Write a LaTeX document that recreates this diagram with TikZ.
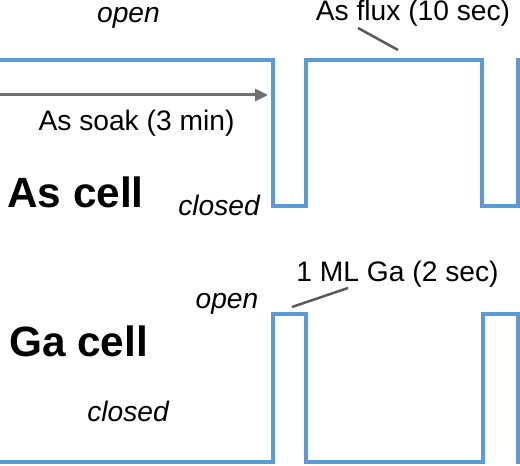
\documentclass[tikz,border=0pt]{standalone}
\usepackage{fontspec}
\setmainfont{Liberation Sans}
\usetikzlibrary{arrows.meta}
\definecolor{wavecol}{RGB}{91,155,213}
\definecolor{arrowgray}{RGB}{112,112,112}
\definecolor{leadgray}{RGB}{89,89,89}
\begin{document}
\begin{tikzpicture}[x=1bp,y=-1bp,
  wave/.style={draw=wavecol,line width=4bp,line join=miter},
  lbl/.style={inner sep=0,anchor=base,font=\fontsize{28.3}{32}\selectfont},
  ital/.style={inner sep=0,anchor=base,font=\fontsize{28.3}{32}\selectfont\itshape},
  celltitle/.style={inner sep=0,anchor=base west,font=\fontsize{42.5}{48}\selectfont\bfseries},
  leader/.style={draw=leadgray,line width=2.5bp},
  soakarrow/.style={draw=arrowgray,line width=3bp,-{Triangle[length=13bp,width=12bp]}}]
\useasboundingbox (0,0) rectangle (520,466);
% waveforms
\draw[wave] (-5,60) -- (273,60) -- (273,206) -- (306,206) -- (306,60) -- (481.5,60) -- (481.5,206) -- (517.5,206) -- (517.5,60) -- (530,60);
\draw[wave] (-5,462) -- (273,462) -- (273,314) -- (306,314) -- (306,462) -- (482.5,462) -- (482.5,314) -- (517.5,314) -- (517.5,462) -- (530,462);
% texts
\node[ital] (asopen) at (128.5,23) {open};
\node[lbl] (asflux) at (413,21) {As flux (10 sec)};
\node[lbl] (assoak) at (136.5,131) {As soak (3 min)};
\node[celltitle] (ascell) at (7,208) {As cell};
\node[ital] (asclosed) at (219,216) {closed};
\node[lbl] (gaml) at (397.5,281) {1 ML Ga (2 sec)};
\node[ital] (gaopen) at (227,308) {open};
\node[celltitle] (gacell) at (9,356) {Ga cell};
\node[ital] (gaclosed) at (128,421) {closed};
% arrow
\coordinate (soakstart) at (0,95);
\coordinate (soakend) at (268,95);
\draw[soakarrow] (soakstart) -- (soakend);
% leaders
\coordinate (fluxA) at (358,28);
\coordinate (fluxB) at (398,50);
\draw[leader] (fluxA) -- (fluxB);
\coordinate (gaA) at (348,288);
\coordinate (gaB) at (292,307);
\draw[leader] (gaA) -- (gaB);
\end{tikzpicture}
\end{document}
